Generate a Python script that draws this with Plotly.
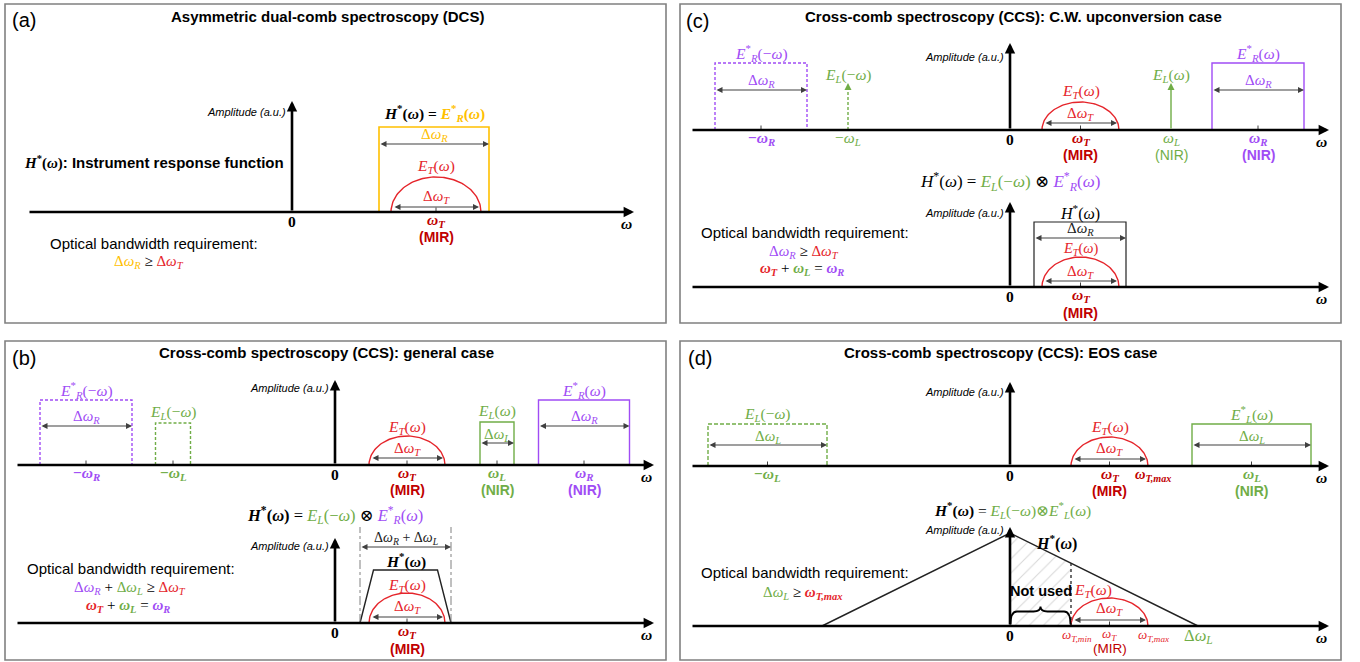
import numpy as np
import plotly.graph_objects as go

W, H = 1360, 662
S = 10.0  # pixels per schematic unit (both directions)

# ======================= DATA (schematic units) =======================
# (a) Asymmetric dual-comb spectroscopy
a_axis_span = [-26.4, 34.2]
a_amp_top = 11.1
a_R = [14.2, 11.0, 8.5]          # E_R*(w): centre, width, height
a_T = [14.4, 9.0, 3.5]           # E_T(w): centre, width, height

# (b) CCS general case - top spectrum
b_axis_span = [-31.9, 31.9]
b1_amp_top = 8.5
b1_centres = [-24.9, -16.2, 7.2, 16.2, 24.9]
b1_widths = [9.2, 3.5, 7.6, 3.4, 9.1]
b1_heights = [6.5, 4.2, 2.9, 4.3, 6.5]
# (b) bottom: instrument response
b2_amp_top = 8.5
b2_H = [7.05, 9.1, 6.4, 5.3]     # centre, base width, top width, height
b2_T = [7.2, 7.6, 3.0]
b2_guide_h = 9.6

# (c) CCS c.w. upconversion case
c_axis_span = [-31.9, 31.9]
c1_amp_top = 8.7
c1_R_centres = [-24.9, 24.8]
c1_R_width = 9.2
c1_R_height = 6.7
c1_L_lines = [-16.2, 16.1]
c1_L_height = 4.7
c1_T = [7.05, 7.7, 2.8]
c2_amp_top = 8.5
c2_H = [7.0, 9.2, 6.5]
c2_T = [7.05, 7.7, 3.0]

# (d) CCS EOS case
d_axis_span = [-31.9, 31.9]
d1_amp_top = 8.4
d1_L_centres = [-24.25, 24.15]
d1_L_width = 11.9
d1_L_height = 4.2
d1_T = [9.95, 7.7, 2.9]
d2_amp_top = 9.9
d2_tri = [18.8, 9.3]             # half base (= Δω_L), apex height
d2_T = [9.95, 7.7, 2.8]

# ======================= STYLE =======================
RED = "#E5252B"
RED_D = "#C00000"
PURPLE = "#A04CF5"
GREEN = "#70AD47"
YELLOW = "#FFC000"
GRAY = "#404040"
SANS = "Liberation Sans, Arial, sans-serif"
SERIF = "Liberation Serif, DejaVu Serif, serif"

# diagram origins on the page (layout)
origins = {1: (292, 212), 2: (335, 465), 3: (335, 623), 4: (1010, 130),
           5: (1010, 287), 6: (1010, 466), 7: (1010, 626)}

fig = go.Figure()
shapes, annos = [], []


def R(i):
    s = "" if i == 1 else str(i)
    return "x" + s, "y" + s


def P(px, py):
    return px / W, 1 - py / H


def text(i, x, y, s, size=14, color="black", family=SERIF, xanchor="center"):
    xr, yr = R(i)
    annos.append(dict(x=x, y=y, xref=xr, yref=yr, text=s, showarrow=False,
                      font=dict(size=size, color=color, family=family),
                      xanchor=xanchor, yanchor="middle"))


def ptext(px, py, s, size=14, color="black", family=SANS, xanchor="center"):
    x, y = P(px, py)
    annos.append(dict(x=x, y=y, xref="paper", yref="paper", text=s, showarrow=False,
                      font=dict(size=size, color=color, family=family),
                      xanchor=xanchor, yanchor="middle"))


def arrow(i, x0, y0, x1, y1, color=GRAY, width=1.2, both=False, size=1.0, head=2):
    xr, yr = R(i)
    annos.append(dict(x=x1, y=y1, ax=x0, ay=y0, xref=xr, yref=yr, axref=xr, ayref=yr,
                      text="", showarrow=True, arrowhead=head, startarrowhead=head,
                      arrowside="end+start" if both else "end", arrowsize=size,
                      startarrowsize=size, arrowwidth=width, arrowcolor=color,
                      standoff=0, startstandoff=0))


def line(i, x0, y0, x1, y1, color="black", width=1.5, dash="solid"):
    xr, yr = R(i)
    shapes.append(dict(type="line", xref=xr, yref=yr, x0=x0, y0=y0, x1=x1, y1=y1,
                       line=dict(color=color, width=width, dash=dash)))


def box(i, c, w, h, color, dash="solid", width=1.4):
    xr, yr = R(i)
    l, r = c - w / 2, c + w / 2
    shapes.append(dict(type="path", xref=xr, yref=yr,
                       path=f"M {l},0 L {l},{h} L {r},{h} L {r},0",
                       line=dict(color=color, width=width, dash=dash)))


def dome(i, c, w, h, color=RED):
    xr, yr = R(i)
    t = np.linspace(0, np.pi, 80)
    fig.add_trace(go.Scatter(x=c + w / 2 * np.cos(t), y=h * np.sin(t), mode="lines",
                             line=dict(color=color, width=1.4), xaxis=xr, yaxis=yr,
                             hoverinfo="skip"))


def tick(i, x):
    line(i, x, 0, x, 0.45, GRAY, 1)


def axes(i, span, top, amp_y):
    arrow(i, span[0], 0, span[1], 0, "black", 2.6, size=0.8)
    arrow(i, 0, 0, 0, top, "black", 2.6, size=0.8)
    text(i, -0.45, amp_y, "<i>Amplitude (a.u.)</i>", 11, "black", SANS, "right")
    text(i, 0, -0.9, "<b>0</b>", 15.5)
    text(i, span[1] - 0.8, -1.1, "<b><i>ω</i></b>", 15.5)


def col(s, c):
    return f'<span style="color:{c}">{s}</span>'


def dw(s):
    return f"Δ<i>ω</i><sub><i>{s}</i></sub>"


def om(s, neg=False):
    return ("−" if neg else "") + f"<i>ω</i><sub><i>{s}</i></sub>"


ER_neg = "<i>E</i><sup>*</sup><sub><i>R</i></sub>(−<i>ω</i>)"
ER_pos = "<i>E</i><sup>*</sup><sub><i>R</i></sub>(<i>ω</i>)"
EL_neg = "<i>E</i><sub><i>L</i></sub>(−<i>ω</i>)"
EL_pos = "<i>E</i><sub><i>L</i></sub>(<i>ω</i>)"
ELs_pos = "<i>E</i><sup>*</sup><sub><i>L</i></sub>(<i>ω</i>)"
ET = "<i>E</i><sub><i>T</i></sub>(<i>ω</i>)"
Hs = "<i>H</i><sup>*</sup>(<i>ω</i>)"
SERIF_SPAN = '<span style="font-family:Liberation Serif, serif">'

# ======================= PANEL (a) =======================
i = 1
axes(i, a_axis_span, a_amp_top, a_amp_top - 1.1)
c, w, h = a_R
box(i, c, w, h, YELLOW, width=1.6)
text(i, c, h + 1.45, "<b>" + Hs + " = " + col(ER_pos, YELLOW) + "</b>", 15.5)
text(i, c, h - 0.8, dw("R"), 15, YELLOW)
arrow(i, c - w / 2, h - 1.7, c + w / 2, h - 1.7, both=True)
c, w, h = a_T
dome(i, c, w, h)
text(i, c, h + 1.1, ET, 15.5, RED)
text(i, c, 1.5, dw("T"), 15, RED)
arrow(i, c - w / 2 + 0.2, 0.5, c + w / 2 - 0.2, 0.5, both=True)
tick(i, c)
text(i, c, -0.85, "<b>" + om("T") + "</b>", 15.5, RED_D)
text(i, c, -2.5, "<b>(MIR)</b>", 14, RED_D, SANS)
text(i, -27.0, 5.0, "<b>" + SERIF_SPAN + Hs + "</span>: Instrument response function</b>", 15, "black", SANS, "left")
text(i, -24.4, -3.1, "Optical bandwidth requirement:", 15, "black", SANS, "left")
text(i, -14.3, -5.0, col(dw("R"), YELLOW) + " ≥ " + col(dw("T"), RED), 15)

# ======================= PANEL (b) =======================
i = 2
axes(i, b_axis_span, b1_amp_top, b1_amp_top - 0.75)
b1_labels = [ER_neg, EL_neg, ET, EL_pos, ER_pos]
b1_colors = [PURPLE, GREEN, RED, GREEN, PURPLE]
b1_ticklab = [om("R", True), om("L", True), om("T"), om("L"), om("R")]
b1_band = [None, None, "(MIR)", "(NIR)", "(NIR)"]
for k in range(5):
    c, w, h, clr = b1_centres[k], b1_widths[k], b1_heights[k], b1_colors[k]
    if k == 2:
        dome(i, c, w, h)
        text(i, c, h + 0.9, ET, 15.5, RED)
        text(i, c, 1.6, dw("T"), 15, RED)
        arrow(i, c - w / 2 + 0.2, 0.7, c + w / 2 - 0.2, 0.7, both=True)
        lab_col = RED_D
    else:
        box(i, c, w, h, clr, dash="solid" if c > 0 else "3px,2px")
        text(i, c, h + 1.05, b1_labels[k], 15.5, clr)
        lab_col = clr
        if k in (0, 4):
            text(i, c, h - 1.7, dw("R"), 15, clr)
            arrow(i, c - w / 2, h - 2.6, c + w / 2, h - 2.6, both=True)
        if k == 3:
            text(i, c, h - 1.3, dw("L"), 15, clr)
            arrow(i, c - w / 2, h - 2.1, c + w / 2, h - 2.1, both=True)
    tick(i, c)
    text(i, c, -0.8, "<b>" + b1_ticklab[k] + "</b>", 15.5, lab_col)
    if b1_band[k]:
        text(i, c, -2.5, "<b>" + b1_band[k] + "</b>", 14, lab_col, SANS)
text(i, 0, -5.0, "<b>" + Hs + "</b> = " + col(EL_neg, GREEN) + " ⊗ " + col(ER_pos, PURPLE), 16.5)

i = 3
axes(i, b_axis_span, b2_amp_top, b2_amp_top - 0.8)
c, bw, tw, h = b2_H
xr, yr = R(i)
fig.add_trace(go.Scatter(x=[c - bw / 2, c - tw / 2, c + tw / 2, c + bw / 2], y=[0, h, h, 0],
                         mode="lines", line=dict(color="#222222", width=1.4),
                         xaxis=xr, yaxis=yr, hoverinfo="skip"))
for gx in (c - bw / 2, c + bw / 2):
    line(i, gx, 0, gx, b2_guide_h, "#808080", 1, "dashdot")
arrow(i, c - bw / 2, b2_guide_h - 2.0, c + bw / 2, b2_guide_h - 2.0, both=True)
text(i, c, b2_guide_h - 1.1, dw("R") + " + " + dw("L"), 14, "#222222")
text(i, c, h + 1.0, "<b>" + Hs + "</b>", 15.5)
c, w, h = b2_T
dome(i, c, w, h)
text(i, c, h + 0.8, ET, 15.5, RED)
text(i, c, 1.6, dw("T"), 15, RED)
arrow(i, c - w / 2 + 0.2, 0.6, c + w / 2 - 0.2, 0.6, both=True)
tick(i, c)
text(i, c, -0.85, "<b>" + om("T") + "</b>", 15.5, RED_D)
text(i, c, -2.55, "<b>(MIR)</b>", 14, RED_D, SANS)
text(i, -31.0, 5.5, "Optical bandwidth requirement:", 15, "black", SANS, "left")
text(i, -20.5, 3.5, col(dw("R"), PURPLE) + " + " + col(dw("L"), GREEN) + " ≥ " + col(dw("T"), RED), 15)
text(i, -20.7, 1.7, col("<b>" + om("T") + "</b>", RED) + " + " + col("<b>" + om("L") + "</b>", GREEN)
     + " = " + col("<b>" + om("R") + "</b>", PURPLE), 15)

# ======================= PANEL (c) =======================
i = 4
axes(i, c_axis_span, c1_amp_top, c1_amp_top - 1.4)
for k, c in enumerate(c1_R_centres):
    box(i, c, c1_R_width, c1_R_height, PURPLE, dash="solid" if c > 0 else "3px,2px")
    text(i, c, c1_R_height + 1.0, ER_pos if c > 0 else ER_neg, 15.5, PURPLE)
    text(i, c, c1_R_height - 1.8, dw("R"), 15, PURPLE)
    arrow(i, c - c1_R_width / 2, c1_R_height - 2.7, c + c1_R_width / 2, c1_R_height - 2.7, both=True)
    tick(i, c)
    text(i, c, -0.8, "<b>" + om("R", c < 0) + "</b>", 15.5, PURPLE)
    if c > 0:
        text(i, c, -2.5, "<b>(NIR)</b>", 14, PURPLE, SANS)
for c in c1_L_lines:
    if c < 0:
        line(i, c, 0, c, c1_L_height - 0.4, GREEN, 1.4, "3px,2px")
        arrow(i, c, c1_L_height - 0.6, c, c1_L_height, GREEN, 1.4)
    else:
        arrow(i, c, 0, c, c1_L_height, GREEN, 1.4)
    text(i, c, c1_L_height + 0.75, EL_pos if c > 0 else EL_neg, 15.5, GREEN)
    text(i, c, -0.8, om("L", c < 0), 15.5, GREEN)
    if c > 0:
        text(i, c, -2.5, "(NIR)", 14, GREEN, SANS)
c, w, h = c1_T
dome(i, c, w, h)
text(i, c, h + 1.1, ET, 15.5, RED)
text(i, c, 1.6, dw("T"), 15, RED)
arrow(i, c - w / 2 + 0.2, 0.7, c + w / 2 - 0.2, 0.7, both=True)
tick(i, c)
text(i, c, -0.8, "<b>" + om("T") + "</b>", 15.5, RED_D)
text(i, c, -2.5, "<b>(MIR)</b>", 14, RED_D, SANS)
text(i, 0, -5.1, Hs + " = " + col(EL_neg, GREEN) + " ⊗ " + col(ER_pos, PURPLE), 17)

i = 5
axes(i, c_axis_span, c2_amp_top, c2_amp_top - 1.1)
c, w, h = c2_H
box(i, c, w, h, "#222222", width=1.2)
text(i, c, h + 1.0, Hs, 16)
text(i, c, h - 0.7, dw("R"), 15, "#222222")
arrow(i, c - w / 2, h - 1.6, c + w / 2, h - 1.6, both=True)
c, w, h = c2_T
dome(i, c, w, h)
text(i, c, h + 0.8, ET, 14.5, RED)
text(i, c, 1.5, dw("T"), 15, RED)
arrow(i, c - w / 2 + 0.2, 0.6, c + w / 2 - 0.2, 0.6, both=True)
tick(i, c)
text(i, c, -0.8, "<b>" + om("T") + "</b>", 15.5, RED_D)
text(i, c, -2.55, "<b>(MIR)</b>", 14, RED_D, SANS)
text(i, -31.1, 5.5, "Optical bandwidth requirement:", 15, "black", SANS, "left")
text(i, -20.6, 3.5, col(dw("R"), PURPLE) + " ≥ " + col(dw("T"), RED), 15)
text(i, -20.8, 1.8, col("<b>" + om("T") + "</b>", RED) + " + " + col("<b>" + om("L") + "</b>", GREEN)
     + " = " + col("<b>" + om("R") + "</b>", PURPLE), 15)

# ======================= PANEL (d) =======================
i = 6
axes(i, d_axis_span, d1_amp_top, d1_amp_top - 1.0)
for c in d1_L_centres:
    box(i, c, d1_L_width, d1_L_height, GREEN, dash="solid" if c > 0 else "4px,2px")
    text(i, c, d1_L_height + 1.0, ELs_pos if c > 0 else EL_neg, 15.5, GREEN)
    text(i, c, d1_L_height - 1.3, dw("L"), 15, GREEN)
    arrow(i, c - d1_L_width / 2, d1_L_height - 2.1, c + d1_L_width / 2, d1_L_height - 2.1, both=True)
    tick(i, c)
    text(i, c, -0.8, "<b>" + om("L", c < 0) + "</b>", 15.5, GREEN)
    if c > 0:
        text(i, c, -2.5, "<b>(NIR)</b>", 14, GREEN, SANS)
c, w, h = d1_T
dome(i, c, w, h)
text(i, c, h + 1.0, ET, 15.5, RED)
text(i, c, 1.7, dw("T"), 15, RED)
arrow(i, c - w / 2 + 0.2, 0.7, c + w / 2 - 0.2, 0.7, both=True)
tick(i, c)
text(i, c, -0.8, "<b>" + om("T") + "</b>", 15.5, RED_D)
text(i, c + w / 2 + 0.5, -0.9, "<b>" + om("T,max") + "</b>", 14.5, RED_D)
text(i, c, -2.5, "<b>(MIR)</b>", 14, RED_D, SANS)
text(i, 0.2, -4.4, "<b>" + Hs + "</b> = " + col(EL_neg + "⊗" + ELs_pos, GREEN), 15.5)

i = 7
xr, yr = R(i)
half, apex = d2_tri
c, w, h = d2_T
wmin = c - w / 2
h_at = apex * (1 - wmin / half)
fig.add_trace(go.Scatter(x=[0, 0, wmin, wmin, 0], y=[0, apex, h_at, 0, 0], mode="lines",
                         fill="toself", fillcolor="rgba(0,0,0,0)",
                         fillpattern=dict(shape="/", fgcolor="#b0b0b0", bgcolor="rgba(0,0,0,0)",
                                          size=10, solidity=0.1),
                         line=dict(width=0), xaxis=xr, yaxis=yr, hoverinfo="skip"))
axes(i, d_axis_span, d2_amp_top, d2_amp_top - 0.3)
fig.add_trace(go.Scatter(x=[-half, 0, half], y=[0, apex, 0], mode="lines",
                         line=dict(color="#222222", width=1.4), xaxis=xr, yaxis=yr, hoverinfo="skip"))
line(i, wmin, 0, wmin, h_at, "#222222", 1.3, "dot")
y0, ym, yt, d = 0.15, 1.45, 1.95, 0.7
xc = wmin / 2
shapes.append(dict(type="path", xref=xr, yref=yr,
                   path=(f"M 0.05,{y0} Q 0.05,{ym} {d},{ym} L {xc - d},{ym} Q {xc},{ym} {xc},{yt} "
                         f"Q {xc},{ym} {xc + d},{ym} L {wmin - d},{ym} Q {wmin - 0.05},{ym} {wmin - 0.05},{y0}"),
                   line=dict(color="black", width=1.8)))
text(i, xc, 3.5, "<b>Not used</b>", 14.5, "black", SANS)
dome(i, c, w, h)
text(i, wmin + 0.05, 3.6, ET, 15.5, RED, SERIF, "left")
text(i, c, 1.7, dw("T"), 15, RED)
arrow(i, c - w / 2 + 0.2, 0.6, c + w / 2 - 0.2, 0.6, both=True)
tick(i, c)
text(i, wmin + 0.55, -0.9, om("T,min"), 13, RED)
text(i, c, -0.85, om("T"), 13, RED)
text(i, c + w / 2 + 0.55, -0.9, om("T,max"), 13, RED)
text(i, c, -2.25, "(MIR)", 13.5, RED_D, SANS)
text(i, half, -1.0, dw("L"), 16.5, GREEN)
text(i, wmin - 1.5, apex - 0.9, "<b>" + Hs + "</b>", 16)
text(i, -31.1, 5.4, "Optical bandwidth requirement:", 15, "black", SANS, "left")
text(i, -20.8, 3.3, col(dw("L"), GREEN) + " ≥ " + col("<b>" + om("T,max") + "</b>", RED), 15)

# ======================= FRAMES, TITLES =======================
frames = [(5, 4, 666, 323), (5, 341, 666, 660), (680, 4, 1341, 323), (680, 341, 1341, 660)]
for (x0, y0_, x1, y1) in frames:
    a0 = P(x0, y1)
    a1 = P(x1, y0_)
    shapes.append(dict(type="rect", xref="paper", yref="paper", x0=a0[0], y0=a0[1], x1=a1[0], y1=a1[1],
                       line=dict(color="#808080", width=1.6)))
titles = [(327, 16, "Asymmetric dual-comb spectroscopy (DCS)"),
          (326, 352, "Cross-comb spectroscopy (CCS): general case"),
          (1013, 16, "Cross-comb spectroscopy (CCS): C.W. upconversion case"),
          (1000, 352, "Cross-comb spectroscopy (CCS): EOS case")]
for (px, py, s) in titles:
    ptext(px, py, "<b>" + s + "</b>", 15)
for (px, py, s) in [(24, 20, "(a)"), (24, 358, "(b)"), (698, 21, "(c)"), (700, 358, "(d)")]:
    ptext(px, py, s, 20)

layout = dict(width=W, height=H, margin=dict(l=0, r=0, t=0, b=0), paper_bgcolor="white",
              plot_bgcolor="rgba(0,0,0,0)", showlegend=False, hovermode=False,
              shapes=shapes, annotations=annos)
for k, (ox, oy) in origins.items():
    s = "" if k == 1 else str(k)
    layout["xaxis" + s] = dict(domain=[0, 1], range=[-ox / S, (W - ox) / S], visible=False,
                               anchor="y" + s, fixedrange=True)
    layout["yaxis" + s] = dict(domain=[0, 1], range=[-(H - oy) / S, oy / S], visible=False,
                               anchor="x" + s, fixedrange=True)
fig.update_layout(**layout)
fig.write_html("out.html", config={"displayModeBar": False},
               post_script="document.body.style.margin='0';document.body.style.overflow='hidden';")
